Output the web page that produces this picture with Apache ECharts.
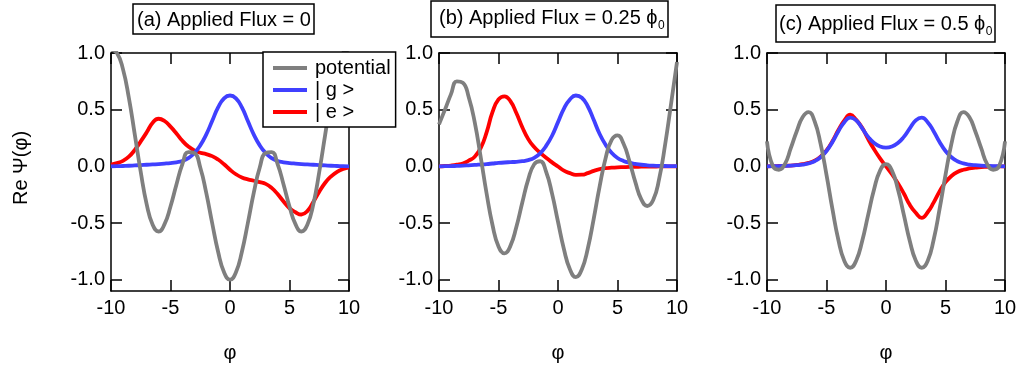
<!DOCTYPE html>
<html><head><meta charset="utf-8">
<script src="https://cdn.jsdelivr.net/npm/echarts@6/dist/echarts.min.js"></script>
<style>html,body{margin:0;padding:0;background:#fff}#c{width:1020px;height:371px}</style>
</head><body><div id="c"></div>
<script>
// ---- data ----
const phi = [-10,-9.5,-9,-8.5,-8,-7.5,-7,-6.5,-6,-5.5,-5,-4.5,-4,-3.5,-3,-2.5,-2,-1.5,-1,-0.5,0,0.5,1,1.5,2,2.5,3,3.5,4,4.5,5,5.5,6,6.5,7,7.5,8,8.5,9,9.5,10];
const xTicks = [-10,-5,0,5,10];
const yTicks = [-1,-0.5,0,0.5,1];
const seriesNames = ['potential','| g >','| e >'];

const potA = [1.03,1.00,0.86,0.605,0.28,-0.05,-0.335,-0.515,-0.575,-0.51,-0.355,-0.16,0.02,0.125,0.118,-0.01,-0.232,-0.5,-0.754,-0.935,-1.0,-0.935,-0.754,-0.5,-0.232,-0.01,0.118,0.125,0.02,-0.16,-0.355,-0.51,-0.575,-0.515,-0.335,-0.05,0.28,0.605,0.86,1.00,1.03];
const gA = [0,0.001,0.003,0.005,0.008,0.011,0.014,0.017,0.02,0.024,0.029,0.036,0.047,0.072,0.117,0.185,0.28,0.40,0.52,0.60,0.625,0.60,0.52,0.40,0.28,0.185,0.117,0.072,0.047,0.036,0.029,0.024,0.02,0.017,0.014,0.011,0.008,0.005,0.003,0.001,0];
const eA = [0.015,0.028,0.048,0.085,0.145,0.22,0.30,0.385,0.42,0.40,0.35,0.29,0.225,0.175,0.14,0.12,0.108,0.09,0.06,0.018,-0.03,-0.07,-0.098,-0.115,-0.127,-0.14,-0.155,-0.19,-0.245,-0.31,-0.37,-0.405,-0.425,-0.395,-0.315,-0.225,-0.145,-0.088,-0.048,-0.024,-0.01];

const potB = [0.37,0.50,0.635,0.75,0.738,0.61,0.39,0.085,-0.24,-0.52,-0.707,-0.768,-0.702,-0.535,-0.319,-0.115,0.019,0.045,-0.048,-0.241,-0.489,-0.731,-0.908,-0.978,-0.91,-0.727,-0.463,-0.176,0.072,0.231,0.273,0.201,0.046,-0.139,-0.291,-0.35,-0.298,-0.111,0.19,0.55,0.92];
const gB = [0,0.001,0.002,0.004,0.006,0.009,0.012,0.016,0.02,0.025,0.03,0.034,0.037,0.04,0.045,0.055,0.075,0.115,0.18,0.27,0.39,0.51,0.59,0.625,0.605,0.53,0.41,0.285,0.19,0.12,0.074,0.048,0.032,0.022,0.014,0.009,0.006,0.004,0.003,0.002,0.001];
const eB = [0,0.003,0.007,0.014,0.025,0.05,0.085,0.16,0.30,0.48,0.59,0.618,0.575,0.47,0.345,0.24,0.17,0.12,0.075,0.035,-0.002,-0.038,-0.06,-0.075,-0.074,-0.06,-0.04,-0.025,-0.016,-0.012,-0.009,-0.007,-0.005,-0.004,-0.003,-0.002,-0.002,-0.001,-0.001,0,0];

const potC = [0.22,0.0,-0.03,0.02,0.16,0.31,0.435,0.478,0.398,0.2,-0.075,-0.378,-0.65,-0.835,-0.895,-0.83,-0.658,-0.428,-0.202,-0.038,0.02,-0.038,-0.202,-0.428,-0.658,-0.83,-0.895,-0.835,-0.65,-0.378,-0.075,0.2,0.398,0.478,0.435,0.31,0.16,0.02,-0.03,0.0,0.22];
const gC = [0,0.001,0.002,0.004,0.006,0.01,0.016,0.026,0.045,0.08,0.135,0.215,0.31,0.39,0.43,0.405,0.335,0.26,0.205,0.175,0.165,0.175,0.205,0.26,0.335,0.405,0.43,0.39,0.31,0.215,0.135,0.08,0.045,0.026,0.016,0.01,0.006,0.004,0.002,0.001,0];
const eC = [0,0.001,0.003,0.005,0.007,0.012,0.019,0.03,0.05,0.085,0.14,0.222,0.32,0.405,0.455,0.41,0.34,0.24,0.15,0.07,0,-0.07,-0.15,-0.24,-0.34,-0.41,-0.455,-0.405,-0.32,-0.222,-0.14,-0.085,-0.05,-0.03,-0.019,-0.012,-0.007,-0.005,-0.003,-0.001,0];

const panelTitles = ['(a) Applied Flux = 0','(b) Applied Flux = 0.25 \u03D5','(c) Applied Flux = 0.5 \u03D5'];
const titleSubs = ['','0','0'];
const xName = '\u03C6';
const yName = 'Re \u03A8(\u03C6)';

// ---- layout / style ----
const FONT = '"Liberation Sans", Arial, sans-serif';
const FS = 20;
const colors = {pot:'#7f7f7f', g:'#4040ff', e:'#ff0000'};
const grids = [
  {left:111, top:53, width:238, height:238},
  {left:439, top:53, width:238, height:238},
  {left:767, top:53, width:238, height:238}
];
const titleBoxes = [
  {x:133, y:4, w:181, h:30, tx:137, ty:20},
  {x:431, y:1, w:237, h:36, tx:439, ty:18.5},
  {x:776, y:5, w:219, h:37, tx:779, ty:24.5}
];
const panels = [[potA,gA,eA],[potB,gB,eB],[potC,gC,eC]];

const lineW = 1.5;
const xAxes = [], yAxes = [], series = [], graphic = [];
grids.forEach((g, i) => {
  ['bottom','top'].forEach((pos, k) => {
    xAxes.push({
      gridIndex:i, type:'value', min:-10, max:10, interval:5, position:pos,
      axisLine:{show:true, onZero:false, lineStyle:{color:'#000', width:lineW}},
      axisTick:{show:true, inside:true, length:11, lineStyle:{color:'#000', width:lineW}},
      axisLabel:{show:k===0, fontSize:FS, fontFamily:FONT, color:'#000', margin:7},
      splitLine:{show:false}
    });
  });
  ['left','right'].forEach((pos, k) => {
    yAxes.push({
      gridIndex:i, type:'value', min:-1.1, max:1, position:pos,
      axisLine:{show:true, onZero:false, lineStyle:{color:'#000', width:lineW}},
      axisTick:{show:true, inside:true, length:11, customValues:yTicks, lineStyle:{color:'#000', width:lineW}},
      axisLabel:{show:k===0, customValues:yTicks, fontSize:FS, fontFamily:FONT, color:'#000', margin:6,
        formatter:v => Number(v).toFixed(1)},
      splitLine:{show:false}
    });
  });
  const [pot, gs, es] = panels[i];
  const mk = (name, arr, color, z) => ({
    type:'line', name, xAxisIndex:2*i, yAxisIndex:2*i, z,
    data: phi.map((x, k) => [x, arr[k]]),
    showSymbol:false, symbol:'none', smooth:0.5, clip:true, animation:false,
    lineStyle:{color, width:3.8}, itemStyle:{color}
  });
  series.push(mk(seriesNames[2], es, colors.e, 2));
  series.push(mk(seriesNames[1], gs, colors.g, 3));
  series.push(mk(seriesNames[0], pot, colors.pot, 4));

  // title box
  const b = titleBoxes[i];
  graphic.push({type:'rect', shape:{x:b.x, y:b.y, width:b.w, height:b.h},
    style:{fill:'#fff', stroke:'#000', lineWidth:lineW}, z:10});
  graphic.push({type:'text', x:b.tx, y:b.ty, z:11,
    style:{text:panelTitles[i], font:FS+'px '+FONT, fill:'#000', textAlign:'left', textVerticalAlign:'middle', align:'left', verticalAlign:'middle'}});
  if (titleSubs[i]) {
    const ctx = document.createElement('canvas').getContext('2d');
    ctx.font = FS+'px '+FONT;
    const w = ctx.measureText(panelTitles[i]).width;
    graphic.push({type:'text', x:b.tx + w + 0.5, y:b.ty + 7, z:11,
      style:{text:titleSubs[i], font:'12px '+FONT, fill:'#000', textAlign:'left', textVerticalAlign:'middle', align:'left', verticalAlign:'middle'}});
  }
  // x name
  graphic.push({type:'text', x:g.left + g.width/2, y:353, z:11,
    style:{text:xName, font:FS+'px '+FONT, fill:'#000', textAlign:'center', textVerticalAlign:'middle', align:'center', verticalAlign:'middle'}});
});
graphic.push({type:'text', x:21, y:168, rotation:Math.PI/2, z:11,
  style:{text:yName, font:FS+'px '+FONT, fill:'#000', textAlign:'center', textVerticalAlign:'middle', align:'center', verticalAlign:'middle'}});

const chart = echarts.init(document.getElementById('c'), null, {renderer:'canvas'});
chart.setOption({
  animation:false,
  backgroundColor:'#fff',
  grid: grids.map(g => Object.assign({containLabel:false}, g)),
  xAxis: xAxes,
  yAxis: yAxes,
  legend: {
    data: seriesNames, orient:'vertical', left:263, top:52,
    padding:[6,5,5,10], itemWidth:34, itemHeight:4, itemGap:2, icon:'rect',
    backgroundColor:'#fff', borderColor:'#000', borderWidth:lineW, borderRadius:0,
    selectedMode:false, z:20,
    textStyle:{fontSize:FS, fontFamily:FONT, color:'#000', padding:[0,0,0,3]}
  },
  series,
  graphic
});
</script></body></html>
